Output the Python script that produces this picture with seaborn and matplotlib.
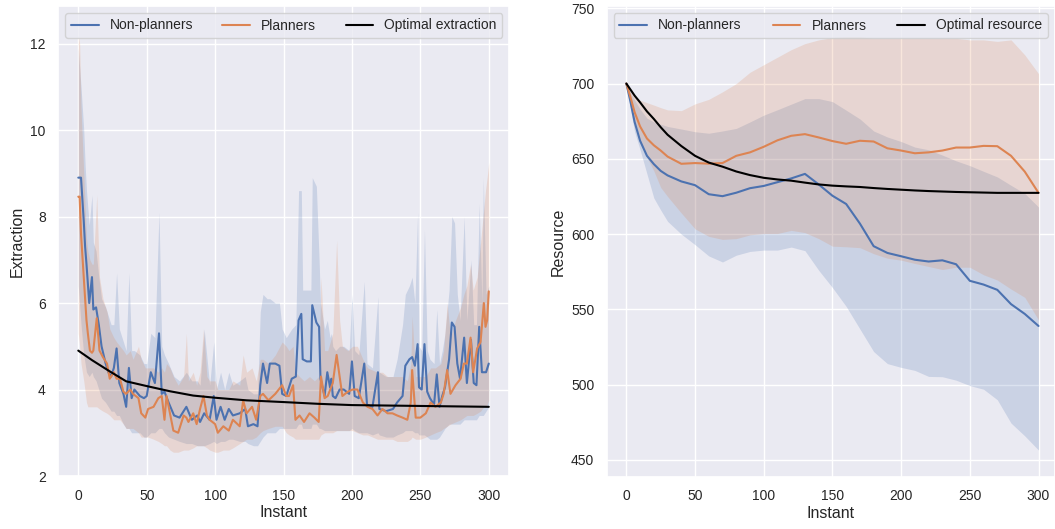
import matplotlib
matplotlib.use("Agg")
import matplotlib.pyplot as plt
import numpy as np
import pandas as pd
import seaborn as sns

# ---------------- Left panel: Extraction ----------------
np_x = [0,2,4,5,6,8,10,11,13,15,17,20,22,24,26,28,30,33,35,37,
        39,41,45,48,50,53,56,59,61,63,66,70,74,79,83,87,89,92,96,99,
        101,104,107,110,113,118,122,124,128,131,133,135,138,140,144,147,149,152,156,159,
        161,163,164,167,170,171,174,176,177,180,182,184,185,186,188,191,194,198,200,202,
        205,209,211,215,219,220,225,230,233,237,239,242,244,246,248,249,251,253,255,257,
        260,262,264,266,268,271,273,275,277,279,282,284,287,289,291,293,295,296,298,300]
np_mean = [8.9,8.9,7.9,7.3,6.9,6.0,6.6,5.85,5.9,5.5,5.0,4.6,4.4,4.3,4.5,4.95,4.15,3.9,3.6,4.5,
           3.8,4.0,3.85,3.8,3.85,4.4,4.15,5.3,3.9,3.95,3.7,3.4,3.35,3.6,3.3,3.4,3.25,3.45,3.3,3.85,
           3.3,3.6,3.3,3.55,3.4,3.45,3.55,3.15,3.2,3.15,4.1,4.6,4.15,4.6,4.6,4.55,3.9,3.85,4.25,4.3,
           5.6,5.75,4.7,4.65,4.65,5.95,5.55,5.45,4.25,3.85,4.4,4.05,4.25,3.85,3.8,4.0,4.0,3.9,4.65,3.85,
           3.8,4.6,3.65,3.6,4.4,3.55,3.5,3.55,3.7,3.85,4.55,4.7,4.75,4.55,5.05,4.05,4.0,5.05,3.95,3.8,
           3.65,4.35,3.6,3.85,4.05,4.7,5.55,5.45,4.6,4.25,5.2,4.15,5.15,4.15,4.1,5.45,4.4,4.4,4.4,4.6]
np_lo = [6.4,5.5,4.8,4.6,4.4,4.3,4.4,4.3,4.2,4.0,3.8,3.7,3.6,3.5,3.5,3.4,3.4,3.2,3.1,3.1,
         3.0,3.0,3.0,2.9,2.9,3.0,3.0,3.1,3.1,3.0,2.9,2.85,2.8,2.75,2.75,2.7,2.7,2.7,2.75,2.8,
         2.75,2.8,2.8,2.85,2.85,2.8,2.8,2.75,2.7,2.7,2.8,2.9,3.0,3.0,3.0,3.1,3.1,3.1,3.1,3.1,
         3.2,3.2,3.1,3.1,3.1,3.2,3.2,3.1,3.1,3.05,3.05,3.05,3.05,3.05,3.05,3.05,3.05,3.05,3.1,3.05,
         3.0,3.0,3.0,2.95,3.0,2.95,2.9,2.9,2.95,3.0,3.05,3.05,3.05,3.0,3.0,2.95,2.95,2.95,2.9,2.85,
         2.85,2.85,2.9,3.0,3.1,3.2,3.2,3.2,3.2,3.2,3.3,3.3,3.3,3.3,3.3,3.4,3.4,3.4,3.5,3.6]
np_hi = [11.9,11.0,10.0,9.2,8.6,7.8,8.5,7.4,7.2,6.6,6.1,5.9,5.7,5.5,5.5,6.7,5.4,5.1,4.9,6.7,
         4.9,4.9,4.8,4.6,4.6,5.3,5.2,8.1,5.0,4.8,4.6,4.3,4.2,4.4,4.2,4.2,4.1,5.4,4.1,5.1,
         4.0,4.4,4.0,4.4,4.1,4.2,4.3,4.0,3.9,3.9,5.8,6.2,6.1,6.1,6.0,6.0,5.4,5.2,5.4,5.5,
         8.6,8.6,6.3,6.3,6.3,8.9,8.7,7.0,6.0,5.4,5.6,5.2,5.3,5.0,4.9,5.0,5.0,4.9,6.2,4.9,
         4.8,6.5,4.6,4.5,6.15,4.4,4.3,4.3,4.7,5.5,6.2,6.4,6.6,6.0,8.1,5.0,4.9,7.7,4.9,4.7,
         4.6,5.85,4.6,4.9,5.3,6.3,8.0,7.85,6.2,5.6,8.0,5.6,7.0,5.5,5.5,8.3,6.0,8.9,6.2,6.4]

pl_x = [0,1,2,4,6,7,8.5,10,11,13.5,15.5,18,21,23,26,28,30.5,33,35,38,
        40,44,46,49,51,55,58.5,61,63,64.5,67,69.5,73,77,79,80.5,84,86.5,89,91.5,
        94,96,100,102,106,110,113,118,120.5,123,127,130,133,135,139,144,149,152,154,157,
        158.7,161.7,165,169,172.6,175.7,177.4,180,182.3,186,188.8,191,193,197,200.5,204,208,211.4,215,218.7,
        222.3,226,229.6,233,237,240.5,243,244,246.6,250,254,257.5,261,265,267,269.6,272,275.7,279.4,281.8,
        284,286.7,288.6,291.5,294,296.4,297.6,298.8,300]
pl_mean = [8.46,8.46,7.6,6.6,5.6,5.3,4.9,4.85,4.9,5.65,4.9,4.75,4.6,4.25,4.4,4.25,4.25,3.95,3.9,4.0,
           3.9,3.8,3.45,3.35,3.55,3.6,3.8,3.85,3.3,3.85,3.45,3.05,3.0,3.4,3.35,3.25,3.45,3.2,3.55,3.85,
           3.4,3.3,3.2,3.0,3.15,3.05,3.3,3.15,3.75,3.45,3.6,3.3,3.85,3.9,3.75,3.9,4.1,3.85,3.85,4.1,
           3.3,3.4,3.25,3.45,3.35,3.25,4.3,3.8,3.85,4.15,4.8,4.3,3.85,3.95,4.0,4.0,3.7,3.6,3.55,3.4,
           3.55,3.45,3.45,3.4,3.35,3.3,3.7,4.45,3.35,3.35,3.45,3.7,3.6,3.7,3.9,4.45,3.9,4.1,4.25,4.6,
           4.6,5.2,4.4,4.95,5.1,6.0,5.45,5.6,6.27]
pl_lo = [5.3,5.0,4.6,4.2,3.7,3.6,3.6,3.6,3.6,3.6,3.55,3.5,3.45,3.4,3.3,3.3,3.3,3.2,3.1,3.1,
         3.1,3.0,2.9,2.9,2.9,2.85,2.8,2.75,2.7,2.7,2.6,2.55,2.55,2.6,2.6,2.6,2.65,2.7,2.7,2.7,
         2.65,2.6,2.55,2.55,2.6,2.6,2.65,2.75,2.8,2.85,2.85,2.9,3.0,3.05,3.1,3.15,3.15,3.0,2.95,2.9,
         2.85,2.85,2.85,2.85,2.85,2.85,2.95,3.0,3.0,3.0,3.05,3.05,3.05,3.05,3.05,3.0,2.95,2.95,2.9,2.85,
         2.85,2.85,2.85,2.8,2.8,2.8,2.85,2.9,2.85,2.85,2.9,2.95,3.0,3.05,3.1,3.15,3.2,3.25,3.3,3.35,
         3.4,3.4,3.4,3.45,3.5,3.6,3.6,3.65,3.75]
pl_hi = [12.2,12.0,10.5,9.0,7.5,7.2,7.0,6.9,6.9,8.5,6.6,6.1,5.8,5.4,5.2,5.1,5.0,4.9,4.8,4.9,
         4.7,5.0,4.7,4.5,4.5,4.5,4.4,4.5,4.4,4.6,4.5,4.3,4.1,4.3,5.3,4.2,4.4,4.1,4.4,5.4,
         4.3,4.2,4.2,4.0,4.0,4.0,4.2,4.1,4.8,4.4,4.5,4.2,4.7,4.7,4.6,4.8,5.1,5.0,4.9,5.0,
         4.4,4.3,4.2,4.3,4.2,4.3,6.6,4.9,4.9,5.3,7.45,5.6,5.0,4.9,5.0,5.0,4.7,4.5,4.45,4.4,
         4.4,4.3,4.3,4.3,4.3,4.2,4.6,5.7,4.3,4.3,4.3,4.5,4.5,4.6,4.9,6.0,5.2,5.6,5.9,6.2,
         6.4,6.9,6.3,6.6,7.4,8.2,8.6,8.9,9.25]

opt_ext_x = [0,10,23,35,50,67,84,100,123,150,175,200,250,300]
opt_ext_y = [4.9,4.68,4.42,4.19,4.08,3.96,3.86,3.81,3.75,3.71,3.67,3.64,3.62,3.6]

# ---------------- Right panel: Resource ----------------
res_x = [0,3,6,10,15,20,25,30,40,50,60,70,80,90,100,110,120,130,140,150,
         160,170,180,190,200,210,220,230,240,250,260,270,280,290,300]
np_res_mean = [700,688,674.5,662,652,646.5,642,639,635,632.5,626.5,625.2,627.5,630.5,632,634.5,637,640,633,625.5,
               620,607,592,587.5,585.3,583,581.8,582.6,580,569,566.5,563,553.5,547,539]
np_res_lo = [700,683,668,656,640,624,616,608.5,600,593,585.5,581.5,586,588.5,589.4,589.4,591.4,589,576,564.5,
             552,537,522,514,511.5,509.5,505.5,505.3,503,499.4,497,490,474.5,466,456.6]
np_res_hi = [700,694,689,683,677,674.5,673,671.5,669.8,668,667,668.5,670.2,674.5,679,682.6,686.3,690,690,688,
             682.3,676.5,668.5,664.5,661.5,657.8,656,652.5,648.7,645.5,641.7,638,632.4,627,618]
pl_res_mean = [700,691,681,671.5,663.5,659,655.5,651.5,646.7,647.2,646.8,647.2,652,654.3,658,662.3,665.3,666.4,664.2,661.8,
               660,662,661.5,657,655.5,653.7,654.3,655.5,657.5,657.5,658.6,658.4,652,641.5,627.4]
pl_res_lo = [700,686,675,662,651,642,631,625,614,603.5,598.5,596.5,597,599.5,600.4,600.4,602.5,601,597,592,
             591.6,591,587,584,582.7,580.5,578.5,576.5,578,578,573,569.5,563.5,558,543]
pl_res_hi = [700,695.5,692,689,687.3,685.7,684,682.5,682,686.5,689.5,694.5,700,707.5,712.5,717.5,722.5,726.5,729,730.5,
             731,731,730,730,730,730,730,730,730,729,729,728,729,719,706.6]
opt_res_y = [700,696,692,687.5,681.5,676.5,671,666,658.5,652,647.5,644.8,641.6,639.2,637.4,636.3,635.5,634.2,633,632.2,
             631.7,631.3,630.6,630,629.5,629,628.6,628.3,628,627.8,627.6,627.4,627.4,627.4,627.4]

x_ticks = [0, 50, 100, 150, 200, 250, 300]
ext_ticks = [2, 4, 6, 8, 10, 12]
res_ticks = [450, 500, 550, 600, 650, 700, 750]

sns.set_theme(style="darkgrid")
plt.rcParams['font.family'] = ['Liberation Sans', 'DejaVu Sans']

pal = sns.color_palette("deep")
BLUE, ORANGE = pal[0], pal[1]

W, H = 1055, 529
fig = plt.figure(figsize=(W / 100, H / 100), dpi=100)
axL = fig.add_axes([58.3 / W, (H - 476) / H, 451 / W, 470 / H])
axR = fig.add_axes([606.7 / W, (H - 476.7) / H, 448.3 / W, 470.7 / H])


def panel(ax, series, ox, oy, olabel, ylabel, yticks, ylim, xlim):
    for label, x, m, lo, hi, c in series:
        ax.fill_between(x, lo, hi, color=c, alpha=0.2, linewidth=0)
    for label, x, m, lo, hi, c in series:
        sns.lineplot(x=x, y=m, ax=ax, color=c, label=label, linewidth=1.5)
    sns.lineplot(x=ox, y=oy, ax=ax, color="black", label=olabel, linewidth=1.5)
    ax.set_xlim(*xlim)
    ax.set_ylim(*ylim)
    ax.set_xticks(x_ticks)
    ax.set_yticks(yticks)
    ax.tick_params(labelsize=10, pad=3)
    ax.set_xlabel("Instant", fontsize=11.5, labelpad=2)
    ax.set_ylabel(ylabel, fontsize=11.5, labelpad=4)
    ax.legend(loc="upper center", bbox_to_anchor=(0, 0, 1, 1), mode="expand",
              ncol=3, fontsize=10, borderaxespad=0.5)


panel(axL,
      [("Non-planners", np_x, np_mean, np_lo, np_hi, BLUE),
       ("Planners", pl_x, pl_mean, pl_lo, pl_hi, ORANGE)],
      opt_ext_x, opt_ext_y, "Optimal extraction", "Extraction",
      ext_ticks, (2.0, 12.87), (-14.6, 315.0))

panel(axR,
      [("Non-planners", res_x, np_res_mean, np_res_lo, np_res_hi, BLUE),
       ("Planners", res_x, pl_res_mean, pl_res_lo, pl_res_hi, ORANGE)],
      res_x, opt_res_y, "Optimal resource", "Resource",
      res_ticks, (438.9, 751.5), (-14.3, 312.0))

fig.savefig("out.png", dpi=100)
